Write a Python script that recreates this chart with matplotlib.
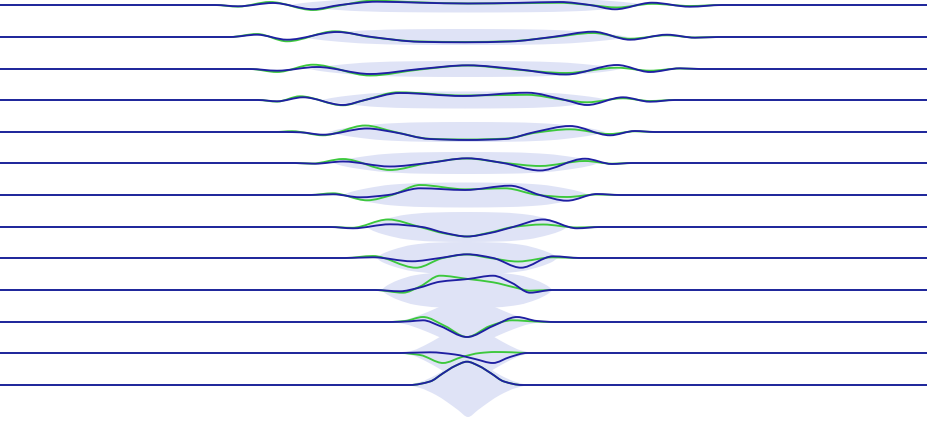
import numpy as np
import matplotlib
matplotlib.use("Agg")
import matplotlib.pyplot as plt
from matplotlib.path import Path
from matplotlib.patches import PathPatch

# ---- data (x in px across, dy = displacement above baseline) ----
baselines = [5, 37, 69, 100, 132, 163, 195, 227, 258, 290, 322, 353, 385]
x_left, x_right = 0, 928

blue_curves = [
    [(215, 0), (238, -1.3), (273, 2), (313, -4.2), (340, 0), (377, 3.3), (420, 2.3), (468, 1.5), (520, 2.2), (560, 3), (590, 0), (615, -4.3), (652, 2.3), (690, -1.7), (722, 0)],
    [(230, 0), (257, 2.3), (287, -2.7), (337, 5), (372, 0), (420, -4.8), (465, -5.3), (510, -4.5), (552, 0), (593, 5.3), (630, -2.7), (667, 2.3), (695, -0.7), (718, 0)],
    [(250, 0), (277, -1.7), (317, 2), (370, -5), (420, 0), (468, 3.7), (515, 0), (566, -5.5), (617, 4), (650, -3), (680, 0.7), (700, 0)],
    [(258, 0), (277, -1.3), (303, 2.7), (343, -5), (365, 0), (400, 7), (463, 4), (527, 7.3), (565, 0), (587, -5), (623, 2.7), (650, -1.7), (675, 0)],
    [(285, 0), (300, -0.3), (323, -2.7), (367, 3.5), (393, 0), (430, -7), (468, -8), (505, -7), (535, 0), (570, 6), (610, -3.3), (635, 1), (655, 0)],
    [(295, 0), (315, -0.7), (343, 1.5), (390, -3.5), (428, 0), (467, 4.7), (503, 0), (540, -7.5), (585, 4.3), (612, -1), (632, 0)],
    [(310, 0), (333, 0.7), (360, -2.3), (388, 0), (420, 6.7), (465, 5), (510, 9.3), (540, 0), (567, -5.7), (597, 1), (620, 0)],
    [(330, 0), (353, -1.3), (390, 2.7), (422, 0), (445, -6), (467, -9.5), (490, -6), (513, 0), (543, 7.5), (577, -1.3), (600, 0)],
    [(345, 0), (373, 0.7), (412, -3.3), (440, 0), (467, 3.7), (493, 0), (521, -9.7), (553, 1.7), (580, 0)],
    [(375, 0), (400, -1.3), (418, 2), (440, 8.3), (468, 11), (493, 14.3), (512, 7), (530, -2.7), (552, 0)],
    [(390, 0), (410, 0.7), (423, 1.7), (440, -4), (467, -15), (493, -4), (517, 5), (537, 1), (555, 0)],
    [(400, 0), (430, 0.7), (455, -1.5), (475, -6), (493, -10), (510, -4), (527, 0)],
    [(410, 0), (430, 3.5), (443, 11.7), (455, 19), (467, 23.3), (479, 19), (491, 11.7), (504, 3.5), (522, 0)],
]

green_curves = [
    [(215, 0), (238, -1.6), (270, 3), (313, -5), (340, -0.5), (372, 4.3), (420, 2.6), (468, 1.5), (520, 1.8), (560, 2.2), (592, -0.3), (617, -2.5), (652, 1.2), (690, -1), (722, 0)],
    [(230, 0), (257, 3), (287, -4.3), (335, 5.7), (370, 0), (420, -4.5), (465, -5), (510, -4.2), (552, -0.3), (593, 4), (630, -1.7), (667, 1.7), (695, -0.5), (718, 0)],
    [(250, 0), (277, -3), (313, 4.3), (370, -6.5), (420, -0.5), (468, 3.5), (515, -0.5), (566, -4), (617, 1.3), (650, -1.7), (680, 0.5), (700, 0)],
    [(258, 0), (277, -1.6), (300, 3.7), (343, -5.3), (365, 0), (398, 7.7), (463, 4.5), (527, 5.2), (565, 0), (587, -2.3), (623, 1.7), (650, -1), (675, 0)],
    [(275, 0), (292, 0.8), (323, -3.3), (365, 6.5), (395, 0), (430, -6.8), (468, -7.5), (505, -6.6), (537, -0.5), (570, 2.7), (610, -2), (635, 0.7), (655, 0)],
    [(295, 0), (312, -0.6), (343, 4), (390, -7), (428, 0), (467, 4.5), (505, 0), (540, -3), (585, 2), (612, -0.7), (632, 0)],
    [(310, 0), (333, 1.7), (367, -5.3), (392, 0), (420, 10), (465, 5.7), (505, 6.7), (538, 0), (567, -2), (597, 0.5), (620, 0)],
    [(330, 0), (352, -0.8), (388, 7.5), (420, 0), (445, -6.5), (467, -9.5), (490, -5.5), (513, 0), (543, 2.5), (577, -0.5), (600, 0)],
    [(345, 0), (373, 2), (416, -9.7), (443, 0), (467, 3.5), (490, 0), (518, -3.5), (553, 0.7), (580, 0)],
    [(375, 0), (403, -2.7), (420, 3.5), (440, 14.3), (468, 11), (493, 7.7), (515, 2.5), (530, -0.7), (552, 0)],
    [(388, 0), (405, 1), (423, 5), (445, -4), (467, -15), (490, -4), (512, 1.7), (535, 0.5), (552, 0)],
    [(400, 0), (420, -2), (443, -10), (462, -4), (480, 0), (495, 1), (512, 0.7), (528, 0)],
    [(410, 0), (430, 3.5), (443, 11.7), (455, 19), (467, 23.3), (479, 19), (491, 11.7), (504, 3.5), (522, 0)],
]

# half-height of the shaded band around each baseline
envelopes = [
    [(288, 0), (302, 1.9), (324, 3.9), (360, 6.2), (405, 7.2), (468, 7.5), (531, 7.2), (576, 6.2), (612, 3.9), (634, 1.9), (648, 0)],
    [(300, 0), (313, 2), (333, 4.2), (366, 6.6), (407, 7.7), (465, 8), (523, 7.7), (564, 6.6), (597, 4.2), (617, 2), (630, 0)],
    [(307, 0), (320, 2), (339, 4.2), (370, 6.6), (410, 7.7), (465, 8), (520, 7.7), (560, 6.6), (591, 4.2), (610, 2), (623, 0)],
    [(320, 0), (332, 2.1), (349, 4.4), (378, 7.0), (414, 8.2), (465, 8.5), (516, 8.2), (552, 7.0), (581, 4.4), (598, 2.1), (610, 0)],
    [(327, 0), (338, 2.5), (355, 5.2), (383, 8.2), (418, 9.6), (467, 10), (516, 9.6), (551, 8.2), (579, 5.2), (596, 2.5), (607, 0)],
    [(331, 0), (342, 2.8), (358, 5.7), (385, 9), (419, 10.6), (466, 11), (513, 10.6), (547, 9), (574, 5.7), (590, 2.8), (601, 0)],
    [(341, 0), (351, 3.1), (366, 6.5), (391, 10.3), (422, 12), (466, 12.5), (510, 12), (541, 10.3), (566, 6.5), (581, 3.1), (591, 0)],
    [(365, 0), (373, 3.8), (385, 7.8), (406, 12.3), (431, 14.4), (467, 15), (503, 14.4), (528, 12.3), (549, 7.8), (561, 3.8), (569, 0)],
    [(375, 0), (382, 4), (393, 8.3), (412, 13.1), (435, 15.4), (467, 16), (499, 15.4), (522, 13.1), (541, 8.3), (552, 4), (559, 0)],
    [(380, 0), (387, 4.5), (397, 9.4), (415, 14.8), (437, 17.3), (467, 18), (497, 17.3), (519, 14.8), (537, 9.4), (547, 4.5), (554, 0)],
    [(389, 0), (405, 2.2), (420, 7), (436, 13.6), (451, 19.8), (467, 22), (483, 19.8), (498, 13.6), (514, 7), (529, 2.2), (545, 0)],
    [(399, 0), (413, 2.6), (426, 8.3), (440, 16.1), (453, 23.4), (467, 26), (481, 23.4), (494, 16.1), (508, 8.3), (521, 2.6), (535, 0)],
    [(405, 0), (420, 3), (436, 10), (447, 17), (458, 25), (468, 32), (478, 25), (489, 17), (500, 10), (516, 3), (531, 0)],
]

blue_color = "#1f1fa2"
green_color = "#3cc83c"
fill_color = "#dfe3f6"


def hermite_segments(xs, ys):
    """Smooth monotone cubic through the read points, as Bezier path segments."""
    xs = np.asarray(xs, float)
    ys = np.asarray(ys, float)
    n = len(xs)
    h = np.diff(xs)
    d = np.diff(ys) / h
    m = np.zeros(n)
    for k in range(1, n - 1):
        if d[k - 1] * d[k] > 0:
            w1 = 2 * h[k] + h[k - 1]
            w2 = h[k] + 2 * h[k - 1]
            m[k] = (w1 + w2) / (w1 / d[k - 1] + w2 / d[k])
    verts, codes = [], []
    for k in range(n - 1):
        verts += [(xs[k] + h[k] / 3, ys[k] + m[k] * h[k] / 3),
                  (xs[k + 1] - h[k] / 3, ys[k + 1] - m[k + 1] * h[k] / 3),
                  (xs[k + 1], ys[k + 1])]
        codes += [Path.CURVE4] * 3
    return verts, codes


def curve_path(pts, base):
    pts = [(x_left, 0)] + list(pts) + [(x_right, 0)]
    xs = [p[0] for p in pts]
    ys = [base - p[1] for p in pts]
    v, c = hermite_segments(xs, ys)
    return Path([(xs[0], ys[0])] + v, [Path.MOVETO] + c)


def band_path(pts, base):
    xs = [p[0] for p in pts]
    top = [base - p[1] for p in pts]
    bot = [base + p[1] for p in pts]
    v1, c1 = hermite_segments(xs, top)
    v2, c2 = hermite_segments(xs[::-1], bot[::-1])
    verts = [(xs[0], top[0])] + v1 + v2 + [(xs[0], top[0])]
    codes = [Path.MOVETO] + c1 + c2 + [Path.CLOSEPOLY]
    return Path(verts, codes)


fig = plt.figure(figsize=(9.28, 4.23), dpi=100)
ax = fig.add_axes([0, 0, 1, 1])
ax.set_xlim(0, 928)
ax.set_ylim(423, 0)
ax.axis("off")

for base, env in zip(baselines, envelopes):
    ax.add_patch(PathPatch(band_path(env, base), facecolor=fill_color,
                           edgecolor="none", zorder=1))

for base, g, b in zip(baselines, green_curves, blue_curves):
    ax.add_patch(PathPatch(curve_path(g, base), facecolor="none",
                           edgecolor=green_color, lw=1.35, zorder=2))
    ax.add_patch(PathPatch(curve_path(b, base), facecolor="none",
                           edgecolor=blue_color, lw=1.35, zorder=3))

fig.savefig("out.png", dpi=100)
